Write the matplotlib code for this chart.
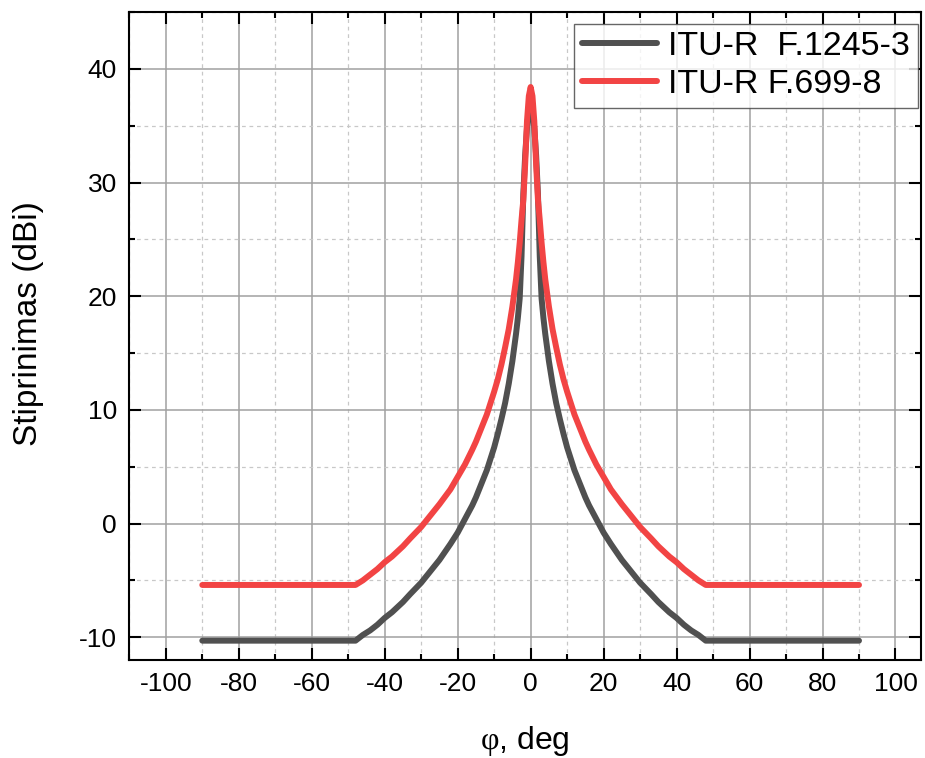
import numpy as np
import matplotlib
matplotlib.use("Agg")
import matplotlib.pyplot as plt
from matplotlib.ticker import MultipleLocator

plt.rcParams["font.family"] = ["Liberation Sans", "DejaVu Sans"]
plt.rcParams["axes.unicode_minus"] = False
plt.rcParams["mathtext.fontset"] = "custom"
plt.rcParams["mathtext.rm"] = "Liberation Serif"

# ============================================================
# Data (one side, mirrored about 0 deg)
# ============================================================

angle_half = [0, 0.5, 1, 1.5, 2, 2.5, 3, 3.5, 4, 5, 6, 7, 8, 9, 10, 11, 12,
              13, 14, 15, 16, 18, 20, 22, 25, 28, 30, 33, 35, 38, 40, 42,
              44, 46, 48, 90]
gain_f1245 = [36.8, 36.3, 34.8, 32.4, 29.0, 23.5, 19.8, 18.1, 16.7, 14.3,
              12.3, 10.6, 9.2, 7.9, 6.7, 5.7, 4.7, 3.9, 3.1, 2.3, 1.6, 0.4,
              -0.8, -1.8, -3.2, -4.4, -5.2, -6.2, -6.9, -7.8, -8.3, -8.9,
              -9.4, -9.8, -10.3, -10.3]
gain_f699 = [38.4, 37.6, 35.4, 31.6, 28.5, 26.7, 24.7, 23.0, 21.5, 19.1,
             17.1, 15.5, 14.0, 12.7, 11.6, 10.6, 9.6, 8.8, 8.0, 7.2, 6.5,
             5.2, 4.1, 3.0, 1.7, 0.5, -0.3, -1.3, -2.0, -2.9, -3.4, -4.0,
             -4.5, -5.0, -5.4, -5.4]

labels = ["ITU-R  F.1245-3", "ITU-R F.699-8"]
colors = ["#505050", "#f24444"]


def mirror(x, y):
    x = np.asarray(x, dtype=float)
    y = np.asarray(y, dtype=float)
    return (np.concatenate([-x[:0:-1], x]),
            np.concatenate([y[:0:-1], y]))


# ============================================================
# Figure
# ============================================================

fig = plt.figure(figsize=(9.25, 7.58), dpi=100)
ax = fig.add_axes([0.1398, 0.1293, 0.8559, 0.8549])

for gain, lab, col in zip([gain_f1245, gain_f699], labels, colors):
    xs, ys = mirror(angle_half, gain)
    ax.plot(xs, ys, color=col, lw=4.3, label=lab, solid_capstyle="round",
            solid_joinstyle="round", zorder=3)

ax.set_xlim(-110, 107)
ax.set_ylim(-12, 45)

ax.xaxis.set_major_locator(MultipleLocator(20))
ax.xaxis.set_minor_locator(MultipleLocator(10))
ax.yaxis.set_major_locator(MultipleLocator(10))
ax.yaxis.set_minor_locator(MultipleLocator(5))

ax.grid(which="major", color="#a0a0a0", lw=1.1, ls="-", zorder=0)
ax.grid(which="minor", color="#c8c8c8", lw=0.9, ls=(0, (3, 3)), zorder=0)
ax.set_axisbelow(True)

ax.tick_params(which="both", direction="in", top=True, right=True,
               width=1.5, colors="black", labelsize=19, pad=9)
ax.tick_params(which="major", length=8.5)
ax.tick_params(which="minor", length=4.5)
for sp in ax.spines.values():
    sp.set_linewidth(1.5)

ax.set_ylabel("Stiprinimas (dBi)", fontsize=24)
ax.yaxis.set_label_coords(-0.108, 0.519)
ax.set_xlabel(r"$\mathrm{\varphi}$, deg", fontsize=23, labelpad=20)

leg = ax.legend(loc="upper right", bbox_to_anchor=(0.996, 0.982),
                borderaxespad=0, fontsize=24.5, frameon=True, fancybox=False,
                handlelength=2.2, handletextpad=0.35, labelspacing=0.21,
                borderpad=0.22)
leg.get_frame().set_edgecolor("#404040")
leg.get_frame().set_linewidth(1.0)
for line in leg.get_lines():
    line.set_linewidth(4.3)

fig.savefig("out.png", dpi=100)
